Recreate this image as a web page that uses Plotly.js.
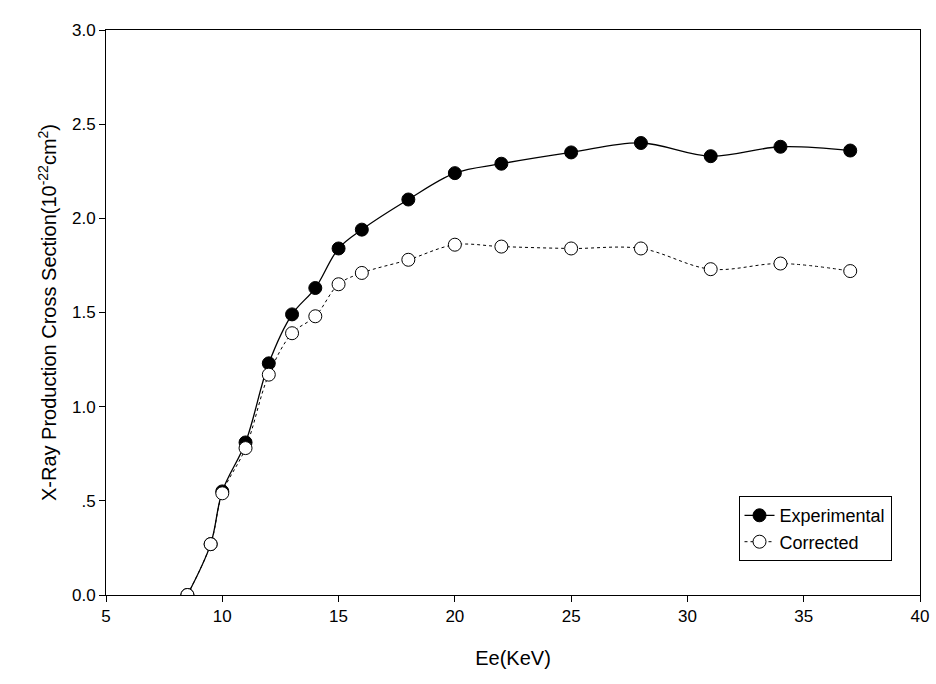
<!DOCTYPE html>
<html>
<head>
<script src="https://cdn.plot.ly/plotly-3.0.1.min.js"></script>
<style>body{margin:0;background:#fff}</style>
</head>
<body>
<div id="plot" style="width:936px;height:684px"></div>
<script>
// energies in keV
var energy = [8.5, 9.5, 10, 11, 12, 13, 14, 15, 16, 18, 20, 22, 25, 28, 31, 34, 37];
var experimental = [0, 0.27, 0.55, 0.81, 1.23, 1.49, 1.63, 1.84, 1.94, 2.10, 2.24, 2.29, 2.35, 2.40, 2.33, 2.38, 2.36];
var corrected = [0, 0.27, 0.54, 0.78, 1.17, 1.39, 1.48, 1.65, 1.71, 1.78, 1.86, 1.85, 1.84, 1.84, 1.73, 1.76, 1.72];
var ytickvals = [0, 0.5, 1, 1.5, 2, 2.5, 3];
var yticktext = ['0.0', '.5', '1.0', '1.5', '2.0', '2.5', '3.0'];

var fnt = 'Liberation Sans, Arial, sans-serif';

var exp_trace = {
   name: 'Experimental',
   x: energy, y: experimental,
   mode: 'lines+markers',
   line: {shape: 'spline', color: 'black', width: 1.3},
   marker: {size: 13, color: 'black', line: {color: 'black', width: 1}}
};
var cor_trace = {
   name: 'Corrected',
   x: energy, y: corrected,
   mode: 'lines+markers',
   line: {shape: 'spline', color: 'black', width: 1, dash: 'dot'},
   marker: {size: 13, color: 'white', line: {color: 'black', width: 1}}
};

var axis_common = {
   showgrid: false, zeroline: false, mirror: true, showline: true,
   linecolor: 'black', linewidth: 1, ticks: 'outside', ticklen: 6,
   tickcolor: 'black', tickfont: {family: fnt, size: 17, color: 'black'}
};

var layout = {
   margin: {l: 106, r: 16, t: 30, b: 89},
   paper_bgcolor: 'white', plot_bgcolor: 'white',
   showlegend: true,
   legend: {
      x: 0.965, y: 0.06, xanchor: 'right', yanchor: 'bottom',
      bordercolor: 'black', borderwidth: 1,
      font: {family: fnt, size: 18, color: 'black'}
   },
   xaxis: Object.assign({}, axis_common, {
      range: [5, 40], dtick: 5,
      title: {text: 'Ee(KeV)', font: {family: fnt, size: 20, color: 'black'}}
   }),
   yaxis: Object.assign({}, axis_common, {
      range: [0, 3], tickvals: ytickvals, ticktext: yticktext,
      title: {text: 'X-Ray Production Cross Section(10<sup>-22</sup>cm<sup>2</sup>)', font: {family: fnt, size: 20, color: 'black'}}
   })
};

Plotly.newPlot('plot', [exp_trace, cor_trace], layout, {displayModeBar: false});
</script>
</body>
</html>
